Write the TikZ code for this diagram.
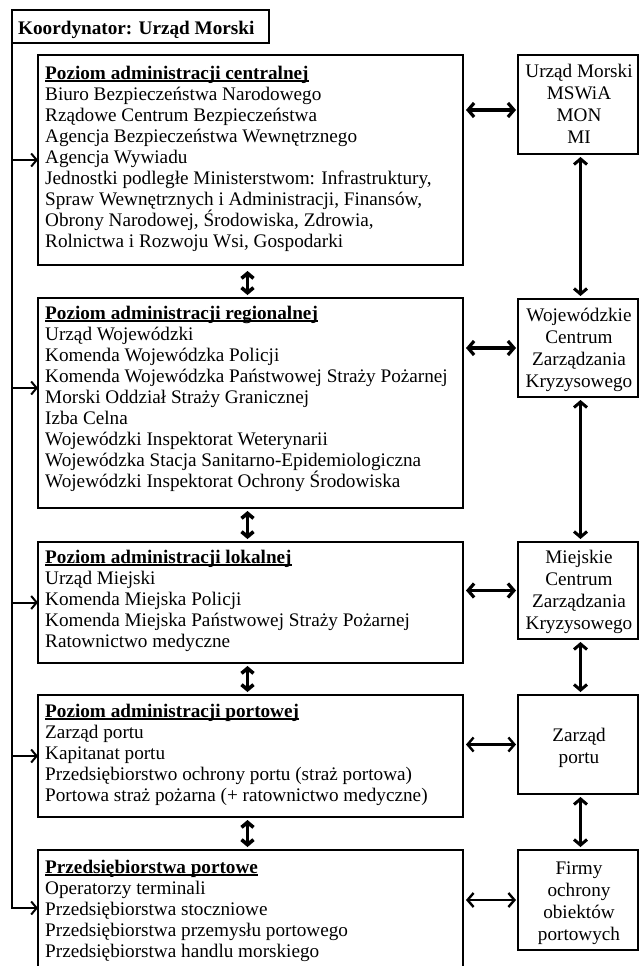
\documentclass[tikz,border=0pt]{standalone}
\usepackage{fontspec}
\setmainfont{Liberation Serif}
\usetikzlibrary{arrows.meta,calc}
\newcommand\hdline[1]{\textbf{\setbox0\hbox{#1}\rlap{\rule[-2.6pt]{\wd0}{1.4pt}}\box0}}
\newcommand\fst{\rule{0pt}{14pt}}
\tikzset{
  boxx/.style={draw, line width=1.2pt, inner sep=0pt, outer sep=0pt, anchor=north west},
  txt/.style={anchor=north west, inner sep=0pt, align=left, font=\fontsize{19.2}{21}\selectfont},
  rtxt/.style={anchor=north, inner sep=0pt, align=center, font=\fontsize{19.2}{22}\selectfont},
  harr/.style={line width=3.2pt, {Straight Barb[length=6pt,width=14pt]}-{Straight Barb[length=6pt,width=14pt]}},
  harrb/.style={line width=2.4pt, {Straight Barb[length=6pt,width=14pt]}-{Straight Barb[length=6pt,width=14pt]}},
  varr/.style={line width=3.6pt, {Straight Barb[length=5pt,width=12pt]}-{Straight Barb[length=5pt,width=12pt]}},
  rarr/.style={line width=3pt, {Straight Barb[length=5.5pt,width=13pt]}-{Straight Barb[length=5.5pt,width=13pt]}},
  larr/.style={line width=2pt, -{Straight Barb[length=5.5pt,width=13pt]}},
}
\begin{document}
\begin{tikzpicture}[x=1pt,y=-1pt]
\clip (0,0) rectangle (639,966);
\fill[white] (0,0) rectangle (639,966);

% coordinator
\node[boxx, minimum width=257pt, minimum height=33pt] (k) at (12,10) {};
\node[anchor=base west, inner sep=0pt, font=\fontsize{19.2}{21}\selectfont\bfseries] (kt) at (18,35) {Koordynator: Urząd Morski};

% left boxes
\node[boxx, minimum width=425pt, minimum height=210pt] (c1) at (38,55) {};
\node[boxx, minimum width=425pt, minimum height=210pt] (c2) at (38,298) {};
\node[boxx, minimum width=425pt, minimum height=121pt] (c3) at (38,542) {};
\node[boxx, minimum width=425pt, minimum height=122pt] (c4) at (38,695) {};
\node[boxx, minimum width=425pt, minimum height=150pt] (c5) at (38,850) {};

% right boxes
\node[boxx, minimum width=120pt, minimum height=99pt] (r1) at (518,55) {};
\node[boxx, minimum width=120pt, minimum height=98pt] (r2) at (518,299) {};
\node[boxx, minimum width=120pt, minimum height=97pt] (r3) at (518,542) {};
\node[boxx, minimum width=120pt, minimum height=99pt] (r4) at (518,695) {};
\node[boxx, minimum width=120pt, minimum height=100pt] (r5) at (518,850) {};

% left texts
\node[txt] (t1) at (45,65) {\fst\hdline{Poziom administracji centralnej}\\
Biuro Bezpieczeństwa Narodowego\\
Rządowe Centrum Bezpieczeństwa\\
Agencja Bezpieczeństwa Wewnętrznego\\
Agencja Wywiadu\\
Jednostki podległe Ministerstwom: Infrastruktury,\\
Spraw Wewnętrznych i Administracji, Finansów,\\
Obrony Narodowej, Środowiska, Zdrowia,\\
Rolnictwa i Rozwoju Wsi, Gospodarki};

\node[txt] (t2) at (45,305) {\fst\hdline{Poziom administracji regionalnej}\\
Urząd Wojewódzki\\
Komenda Wojewódzka Policji\\
Komenda Wojewódzka Państwowej Straży Pożarnej\\
Morski Oddział Straży Granicznej\\
Izba Celna\\
Wojewódzki Inspektorat Weterynarii\\
Wojewódzka Stacja Sanitarno-Epidemiologiczna\\
Wojewódzki Inspektorat Ochrony Środowiska};

\node[txt] (t3) at (45,549) {\fst\hdline{Poziom administracji lokalnej}\\
Urząd Miejski\\
Komenda Miejska Policji\\
Komenda Miejska Państwowej Straży Pożarnej\\
Ratownictwo medyczne};

\node[txt] (t4) at (45,703) {\fst\hdline{Poziom administracji portowej}\\
Zarząd portu\\
Kapitanat portu\\
Przedsiębiorstwo ochrony portu (straż portowa)\\
Portowa straż pożarna (+ ratownictwo medyczne)};

\node[txt] (t5) at (45,859) {\fst\hdline{Przedsiębiorstwa portowe}\\
Operatorzy terminali\\
Przedsiębiorstwa stoczniowe\\
Przedsiębiorstwa przemysłu portowego\\
Przedsiębiorstwa handlu morskiego};

% right texts
\node[rtxt] (s1) at (579,63) {\fst Urząd Morski\\MSWiA\\MON\\MI};
\node[rtxt] (s2) at (579,307) {\fst Wojewódzkie\\Centrum\\Zarządzania\\Kryzysowego};
\node[rtxt] (s3) at (579,549) {\fst Miejskie\\Centrum\\Zarządzania\\Kryzysowego};
\node[rtxt] (s4) at (579,727) {\fst Zarząd\\portu};
\node[rtxt] (s5) at (579,860) {\fst Firmy\\ochrony\\obiektów\\portowych};

% horizontal arrows
\draw[harr] ([xshift=-2pt,yshift=-5.5pt]r1.west) -- ([xshift=3pt,yshift=-5.5pt]r1.west -| c1.east);
\draw[harr] ([xshift=-2pt]r2.west) -- ([xshift=3pt]r2.west -| c2.east);
\draw[harr] ([xshift=-2pt]r3.west) -- ([xshift=3pt]r3.west -| c3.east);
\draw[harrb] ([xshift=-2pt]r4.west) -- ([xshift=3pt]r4.west -| c4.east);
\draw[harrb] ([xshift=-2pt]r5.west) -- ([xshift=3pt]r5.west -| c5.east);

% central vertical arrows
\draw[varr] ([xshift=-3pt,yshift=-6pt]c1.south) -- ([xshift=-3pt,yshift=3pt]c2.north);
\draw[varr] ([xshift=-3pt,yshift=-3pt]c2.south) -- ([xshift=-3pt,yshift=3pt]c3.north);
\draw[varr] ([xshift=-3pt,yshift=-3pt]c3.south) -- ([xshift=-3pt,yshift=3pt]c4.north);
\draw[varr] ([xshift=-3pt,yshift=-3pt]c4.south) -- ([xshift=-3pt,yshift=3pt]c5.north);

% right vertical arrows
\draw[rarr] ([xshift=2.5pt,yshift=-3pt]r1.south) -- ([xshift=2.5pt,yshift=3pt]r2.north);
\draw[rarr] ([xshift=2.5pt,yshift=-3pt]r2.south) -- ([xshift=2.5pt,yshift=3pt]r3.north);
\draw[rarr] ([xshift=2.5pt,yshift=-3pt]r3.south) -- ([xshift=2.5pt,yshift=3pt]r4.north);
\draw[rarr] ([xshift=2.5pt,yshift=-3pt]r4.south) -- ([xshift=2.5pt,yshift=3pt]r5.north);

% left trunk and arrows
\coordinate (e2) at (38,388);
\coordinate (e5) at (38,908);
\draw[larr] (k.south west) |- (e5);
\draw[larr] (k.south west |- c1.west) -- (c1.west);
\draw[larr] (k.south west |- e2) -- (e2);
\draw[larr] (k.south west |- c3.west) -- (c3.west);
\draw[larr] (k.south west |- c4.west) -- (c4.west);
\end{tikzpicture}
\end{document}
